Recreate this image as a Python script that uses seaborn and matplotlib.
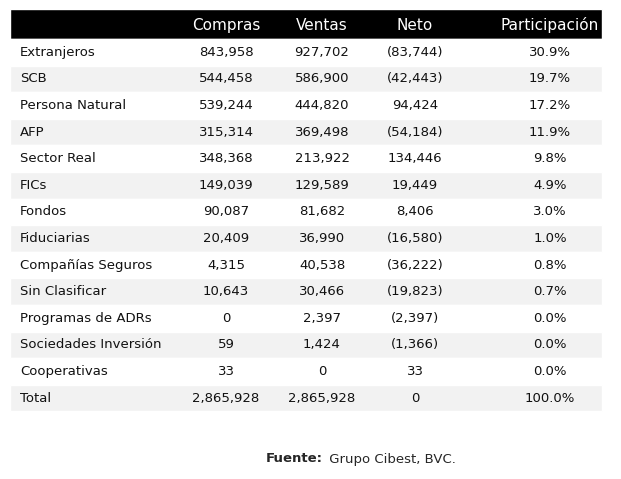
import matplotlib
matplotlib.use("Agg")
import matplotlib.pyplot as plt
import seaborn as sns

sns.set_style("white")
plt.rcParams['font.family'] = ['DejaVu Sans']

headers = ["Compras", "Ventas", "Neto", "Participación"]
categories = ["Extranjeros", "SCB", "Persona Natural", "AFP", "Sector Real", "FICs", "Fondos",
              "Fiduciarias", "Compañías Seguros", "Sin Clasificar", "Programas de ADRs",
              "Sociedades Inversión", "Cooperativas", "Total"]
compras = ["843,958", "544,458", "539,244", "315,314", "348,368", "149,039", "90,087", "20,409",
           "4,315", "10,643", "0", "59", "33", "2,865,928"]
ventas = ["927,702", "586,900", "444,820", "369,498", "213,922", "129,589", "81,682", "36,990",
          "40,538", "30,466", "2,397", "1,424", "0", "2,865,928"]
neto = ["(83,744)", "(42,443)", "94,424", "(54,184)", "134,446", "19,449", "8,406", "(16,580)",
        "(36,222)", "(19,823)", "(2,397)", "(1,366)", "33", "0"]
participacion = ["30.9%", "19.7%", "17.2%", "11.9%", "9.8%", "4.9%", "3.0%", "1.0%", "0.8%",
                 "0.7%", "0.0%", "0.0%", "0.0%", "100.0%"]

fig = plt.figure(figsize=(6.21, 4.79), dpi=100)
ax = fig.add_axes([0, 0, 1, 1])
ax.set_xlim(0, 621)
ax.set_ylim(479, 0)
ax.axis("off")

left, right = 10, 602
top, hh, rh = 9, 30, 26.6
xs = [226, 322, 415, 550]

ax.barh([top + hh / 2], [right - left], height=hh, left=left, color="black")
for x, h in zip(xs, headers):
    ax.text(x, top + hh / 2 + 1, h, color="white", fontsize=11, ha="center", va="center")

ys = [top + hh + rh * (i + 0.5) for i in range(len(categories))]
colors = ["white" if i % 2 == 0 else "#f2f2f2" for i in range(len(categories))]
ax.barh(ys, [right - left] * len(ys), height=rh, left=left, color=colors)
for i, y in enumerate(ys):
    ax.text(20, y, categories[i], fontsize=9.5, va="center", ha="left", color="#111")
    for x, col in zip(xs, [compras, ventas, neto, participacion]):
        ax.text(x, y, col[i], fontsize=9.5, va="center", ha="center", color="#111")

ax.text(323, 459, "Fuente:", fontsize=9.5, fontweight="bold", ha="right", va="center")
ax.text(325, 459, " Grupo Cibest, BVC.", fontsize=9.5, ha="left", va="center")

fig.savefig("out.png", dpi=100)
